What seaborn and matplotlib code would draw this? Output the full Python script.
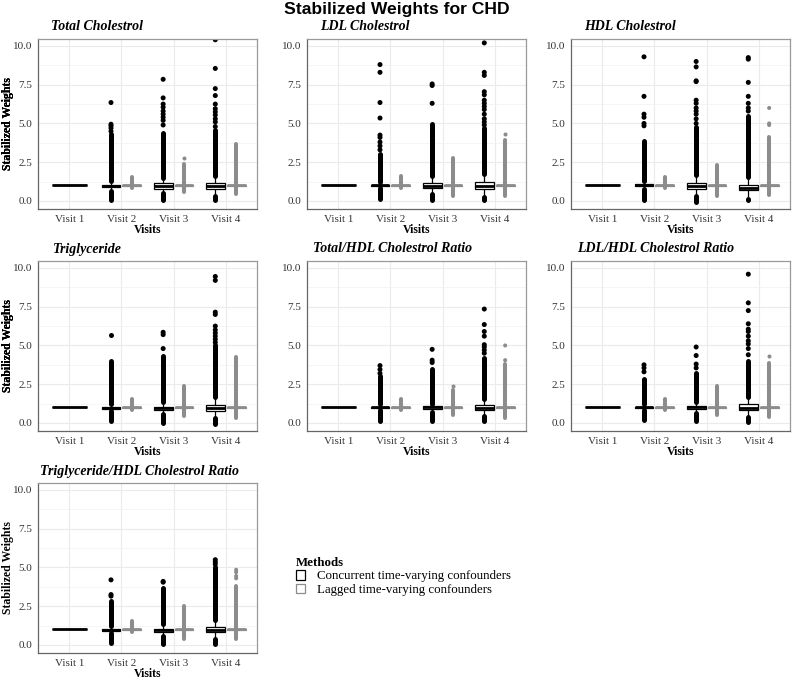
import numpy as np
import pandas as pd
import matplotlib
matplotlib.use("Agg")
import matplotlib.pyplot as plt
from matplotlib.patches import Patch
import seaborn as sns

panels = ["Total Cholestrol", "LDL Cholestrol", "HDL Cholestrol", "Triglyceride",
          "Total/HDL Cholestrol Ratio", "LDL/HDL Cholestrol Ratio",
          "Triglyceride/HDL Cholestrol Ratio"]
visits = ["Visit 1", "Visit 2", "Visit 3", "Visit 4"]
methods = ["Concurrent time-varying confounders", "Lagged time-varying confounders"]

# one box per (visit, method); Visit 1 only has the concurrent method
box_visit = ["Visit 1", "Visit 2", "Visit 2", "Visit 3", "Visit 3", "Visit 4", "Visit 4"]
box_method = [0, 0, 1, 0, 1, 0, 1]

# box statistics, one row per panel, one column per box
whis_lo = [
    [1.0, 0.70, 0.90, 0.30, 0.90, 0.35, 0.85],
    [1.0, 0.85, 0.90, 0.45, 0.90, 0.35, 0.85],
    [1.0, 0.75, 0.90, 0.35, 0.90, 0.25, 0.85],
    [1.0, 0.80, 0.90, 0.55, 0.90, 0.40, 0.85],
    [1.0, 0.85, 0.90, 0.70, 0.90, 0.45, 0.85],
    [1.0, 0.85, 0.90, 0.65, 0.90, 0.45, 0.85],
    [1.0, 0.80, 0.90, 0.55, 0.90, 0.45, 0.85],
]
box_q1 = [
    [1.0, 0.90, 0.96, 0.80, 0.97, 0.75, 0.95],
    [1.0, 0.95, 0.97, 0.85, 0.97, 0.80, 0.96],
    [1.0, 0.95, 0.97, 0.80, 0.97, 0.70, 0.96],
    [1.0, 0.93, 0.97, 0.85, 0.97, 0.80, 0.96],
    [1.0, 0.95, 0.97, 0.90, 0.97, 0.85, 0.96],
    [1.0, 0.95, 0.97, 0.90, 0.97, 0.85, 0.96],
    [1.0, 0.93, 0.97, 0.85, 0.97, 0.85, 0.96],
]
box_med = [
    [1.0, 0.97, 1.00, 0.95, 1.00, 0.95, 1.00],
    [1.0, 1.00, 1.00, 0.95, 1.00, 0.95, 1.00],
    [1.0, 1.00, 1.00, 0.95, 1.00, 0.85, 1.00],
    [1.0, 0.98, 1.00, 0.95, 1.00, 0.95, 1.00],
    [1.0, 1.00, 1.00, 1.00, 1.00, 0.95, 1.00],
    [1.0, 1.00, 1.00, 1.00, 1.00, 0.95, 1.00],
    [1.0, 0.98, 1.00, 0.95, 1.00, 0.95, 1.00],
]
box_q3 = [
    [1.0, 1.05, 1.02, 1.15, 1.02, 1.15, 1.05],
    [1.0, 1.05, 1.02, 1.15, 1.02, 1.20, 1.05],
    [1.0, 1.10, 1.02, 1.15, 1.02, 1.05, 1.05],
    [1.0, 1.05, 1.02, 1.05, 1.02, 1.15, 1.05],
    [1.0, 1.05, 1.02, 1.08, 1.02, 1.15, 1.04],
    [1.0, 1.05, 1.02, 1.10, 1.02, 1.20, 1.04],
    [1.0, 1.05, 1.02, 1.05, 1.02, 1.15, 1.04],
]
whis_hi = [
    [1.0, 1.25, 1.10, 1.65, 1.10, 1.75, 1.20],
    [1.0, 1.20, 1.10, 1.60, 1.10, 1.75, 1.20],
    [1.0, 1.30, 1.10, 1.65, 1.10, 1.55, 1.20],
    [1.0, 1.20, 1.10, 1.35, 1.10, 1.65, 1.20],
    [1.0, 1.20, 1.10, 1.25, 1.10, 1.55, 1.20],
    [1.0, 1.20, 1.10, 1.35, 1.10, 1.70, 1.20],
    [1.0, 1.20, 1.10, 1.35, 1.10, 1.60, 1.20],
]

# ranges where outliers are so dense they merge into a solid bar
dense_bands = [
    [[], [(0.05, 0.65), (1.3, 4.3)], [(0.85, 1.55)], [(0.05, 0.5), (1.5, 4.4)],
     [(0.55, 2.4)], [(0.05, 0.3), (1.6, 4.6)], [(0.45, 3.7)]],
    [[], [(0.15, 0.85), (1.2, 3.05)], [(0.85, 1.6)], [(0.05, 0.45), (1.6, 4.95)],
     [(0.35, 2.8)], [(0.05, 0.25), (1.75, 4.7)], [(0.3, 3.95)]],
    [[], [(0.05, 0.75), (1.3, 3.9)], [(0.85, 1.55)], [(-0.05, 0.35), (1.65, 4.8)],
     [(0.3, 2.3)], [(0.05, 0.15), (1.55, 5.5)], [(0.4, 4.1)]],
    [[], [(0.1, 0.8), (1.2, 4.0)], [(0.85, 1.55)], [(0.0, 0.55), (1.35, 4.3)],
     [(0.45, 2.4)], [(-0.05, 0.35), (1.65, 5.0)], [(0.35, 4.25)]],
    [[], [(0.15, 0.85), (1.2, 3.0)], [(0.85, 1.55)], [(0.15, 0.7), (1.25, 3.5)],
     [(0.5, 2.1)], [(0.1, 0.45), (1.55, 4.2)], [(0.35, 3.8)]],
    [[], [(0.2, 0.85), (1.2, 2.85)], [(0.85, 1.55)], [(0.15, 0.65), (1.35, 3.2)],
     [(0.5, 2.4)], [(0.05, 0.4), (1.7, 4.0)], [(0.4, 3.9)]],
    [[], [(0.1, 0.8), (1.2, 2.85)], [(0.85, 1.55)], [(0.05, 0.55), (1.35, 3.7)],
     [(0.4, 2.5)], [(0.05, 0.4), (1.6, 5.05)], [(0.4, 3.8)]],
]

# individual outliers above the dense bars
sparse_outliers = [
    [[], [4.5, 4.7, 4.85, 4.95, 6.35], [],
     [4.9, 5.2, 5.4, 5.6, 5.8, 6.05, 6.25, 6.65, 7.85], [2.8],
     [4.8, 5.1, 5.3, 5.55, 5.75, 5.95, 6.25, 6.8, 7.25, 8.55, 10.4], []],
    [[], [3.3, 3.55, 3.8, 4.1, 4.25, 5.35, 6.35, 8.3, 8.8], [],
     [6.3, 7.45, 7.55], [],
     [4.9, 5.1, 5.3, 5.6, 5.9, 6.1, 6.3, 6.5, 6.85, 7.05, 8.1, 8.3, 10.2], [4.3]],
    [[], [4.85, 5.0, 5.4, 5.6, 6.75, 9.3], [],
     [5.0, 5.3, 5.6, 5.8, 6.0, 6.3, 6.5, 7.7, 7.75, 8.65, 9.0], [],
     [5.8, 6.0, 6.3, 6.75, 7.65, 9.15, 9.25], [4.9, 5.0, 6.0]],
    [[], [5.65], [], [4.8, 5.7, 5.85], [],
     [5.2, 5.4, 5.6, 5.8, 6.0, 6.25, 7.0, 7.15, 9.2, 9.45], []],
    [[], [3.2, 3.45, 3.7], [], [3.9, 4.05, 4.75], [2.4],
     [4.5, 4.7, 4.9, 5.05, 5.6, 5.9, 6.35, 7.35], [4.05, 5.0]],
    [[], [3.3, 3.55, 3.75], [], [3.55, 3.8, 4.35, 4.9], [],
     [4.4, 4.8, 5.1, 5.3, 5.6, 5.9, 6.05, 6.4, 7.25, 7.75, 9.6], [4.35]],
    [[], [3.15, 3.25, 4.2], [], [4.05, 4.1], [],
     [5.2, 5.35, 5.5], [4.3, 4.45, 4.7, 4.85]],
]

line_colors = {methods[0]: "black", methods[1]: "#8c8c8c"}
dot_sizes = {methods[0]: 3.6, methods[1]: 2.9}
white = {m: "white" for m in methods}

sns.set_theme(style="whitegrid")
plt.rcParams["font.family"] = ["Liberation Serif", "DejaVu Serif"]
plt.rcParams["text.color"] = "black"
plt.rcParams["axes.labelcolor"] = "black"

W, H = 794, 679
fig = plt.figure(figsize=(W / 100, H / 100), dpi=100)
lefts = [38, 307, 571]
tops = [39, 261, 483]
aw, ah = 219, 170
renderer = fig.canvas.get_renderer()

for i, name in enumerate(panels):
    r, c = divmod(i, 3)
    ax = fig.add_axes([lefts[c] / W, 1 - (tops[r] + ah) / H, aw / W, ah / H])
    ax.set_axisbelow(True)

    rows = []
    for b in range(7):
        for stat in (whis_lo, box_q1, box_med, box_q3, whis_hi):
            rows.append((box_visit[b], methods[box_method[b]], stat[i][b]))
    df = pd.DataFrame(rows, columns=["Visit", "Method", "Weight"])

    first = df[df.Visit == "Visit 1"]
    sns.boxplot(data=first, x="Visit", y="Weight", order=visits, width=0.68,
                whis=np.inf, color="white", linecolor="black", linewidth=0.9,
                showcaps=False, medianprops={"linewidth": 2.0}, ax=ax)

    for m in methods:
        sub = df[(df.Visit != "Visit 1") & (df.Method == m)]
        sns.boxplot(data=sub, x="Visit", y="Weight", hue="Method", order=visits,
                    hue_order=methods, palette=white, dodge=True, width=0.8, gap=0.1,
                    whis=np.inf, linecolor=line_colors[m], linewidth=0.9,
                    showcaps=False, medianprops={"linewidth": 2.0}, legend=False, ax=ax)

    # dense outlier bars
    for b in range(7):
        m = methods[box_method[b]]
        pos = visits.index(box_visit[b])
        if box_visit[b] != "Visit 1":
            pos += -0.2 if box_method[b] == 0 else 0.2
        for lo, hi in dense_bands[i][b]:
            lc = ax.vlines(pos, lo, hi, colors=line_colors[m],
                           linewidth=dot_sizes[m], zorder=0.9)
            lc.set_capstyle("round")

    # sparse outlier points
    for k, m in enumerate(methods):
        pts = [(box_visit[b], m, v) for b in range(7) if box_method[b] == k
               for v in sparse_outliers[i][b]]
        if not pts:
            continue
        sdf = pd.DataFrame(pts, columns=["Visit", "Method", "Weight"])
        sns.stripplot(data=sdf, x="Visit", y="Weight", hue="Method", order=visits,
                      hue_order=methods, palette=line_colors, dodge=True, jitter=False,
                      size=dot_sizes[m], linewidth=0, legend=False, ax=ax, zorder=1)

    ax.set_xlim(-0.6, 3.6)
    ax.set_ylim(-0.52, 10.45)
    ax.set_yticks([0, 2.5, 5, 7.5, 10])
    ax.set_yticklabels(["0.0", "2.5", "5.0", "7.5", "10.0"])
    ax.set_yticks([1.25, 3.75, 6.25, 8.75], minor=True)
    ax.grid(True, which="major", color="#ebebeb", linewidth=0.8)
    ax.grid(True, which="minor", axis="y", color="#f2f2f2", linewidth=0.5)
    ax.tick_params(axis="both", which="major", length=2.5, width=0.6, color="#444",
                   labelsize=8, labelcolor="#333", pad=1.5)
    ax.tick_params(axis="y", which="minor", length=0)
    for side in ["left", "bottom"]:
        ax.spines[side].set_color("#666")
        ax.spines[side].set_linewidth(0.9)
    for side in ["top", "right"]:
        ax.spines[side].set_color("#999")
        ax.spines[side].set_linewidth(0.9)

    ax.set_xlabel("Visits", fontsize=8.5, fontweight="bold")
    ax.set_ylabel("Stabilized Weights", fontsize=8.5, fontweight="bold")
    ax.xaxis.set_label_coords(0.5, -15 / ah)
    ax.xaxis.label.set_va("top")
    ax.yaxis.set_label_coords(-(lefts[c] - 14) / aw, 0.5)

    # panel title: bold italic, nudged 10% of the free width from the left
    t = fig.text(0, 1 - (tops[r] - 12) / H, name, fontsize=10, fontweight="bold",
                 fontstyle="italic", va="center", ha="left")
    tw = t.get_window_extent(renderer=renderer).width
    t.set_x((lefts[c] + 0.1 * (aw - tw)) / W)

fig.text(397 / W, 1 - 9.5 / H, "Stabilized Weights for CHD", fontsize=12.6,
         fontweight="bold", family="Liberation Sans", ha="center", va="center")

handles = [Patch(facecolor="white", edgecolor=line_colors[m], linewidth=0.9) for m in methods]
leg = fig.legend(handles, methods, title="Methods", loc="upper left",
                 bbox_to_anchor=(284 / W, 1 - 545 / H), frameon=False, fontsize=9.3,
                 handlelength=0.75, handleheight=0.75, handletextpad=0.9,
                 labelspacing=0.12, alignment="left")
leg.get_title().set_fontweight("bold")
leg.get_title().set_fontsize(9.3)

fig.savefig("out.png", dpi=100)
